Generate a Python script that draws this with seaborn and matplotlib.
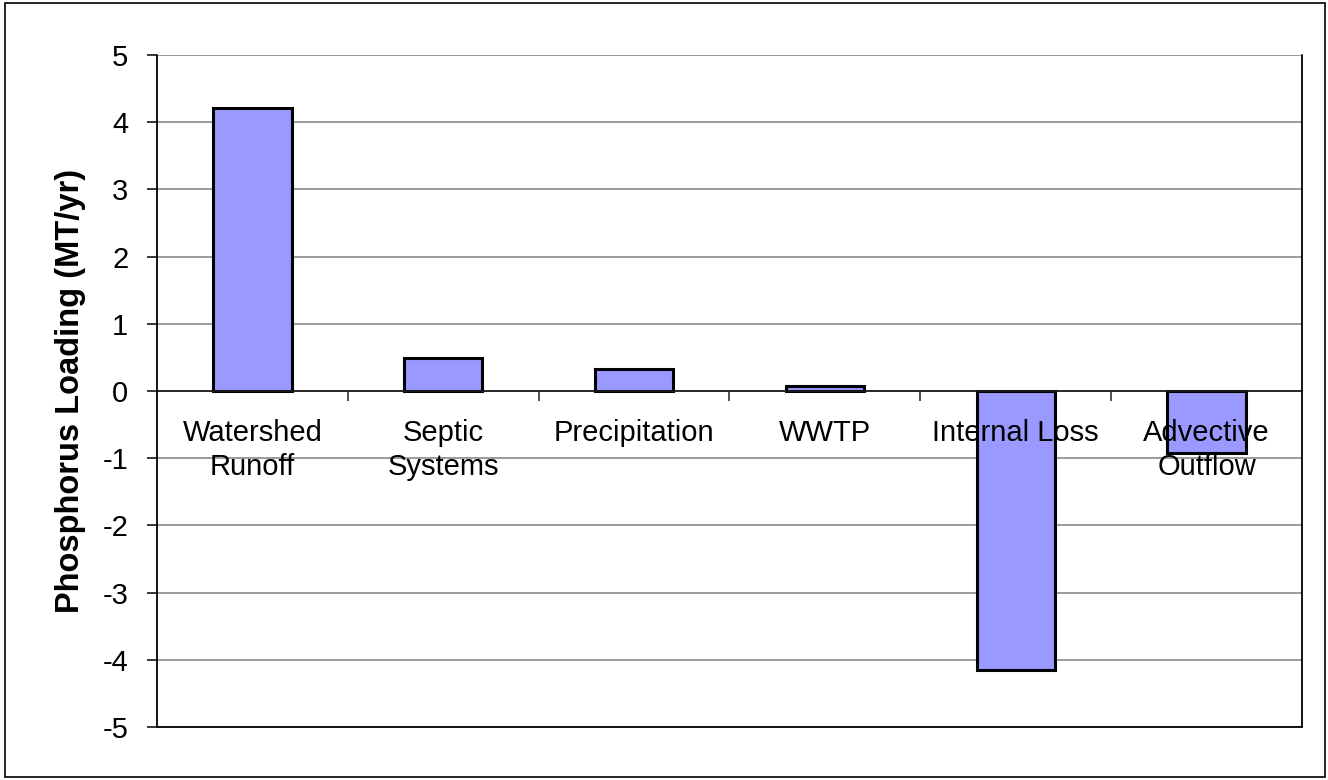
import matplotlib
matplotlib.use("Agg")
import matplotlib.pyplot as plt
from matplotlib.lines import Line2D
from matplotlib.patches import Rectangle
from matplotlib.ticker import FixedLocator
import seaborn as sns
import pandas as pd

categories = ["Watershed\nRunoff", "Septic\nSystems", "Precipitation", "WWTP",
              "Internal Loss", "Advective\nOutflow"]
loading = [4.21, 0.49, 0.33, 0.08, -4.15, -0.92]
y_ticks = [5, 4, 3, 2, 1, 0, -1, -2, -3, -4, -5]

df = pd.DataFrame({"source": categories, "loading": loading})

sns.set_theme(style="white")
plt.rcParams["font.family"] = ["Liberation Sans", "DejaVu Sans"]
plt.rcParams["text.color"] = "black"
plt.rcParams["xtick.color"] = "black"
plt.rcParams["ytick.color"] = "black"
plt.rcParams["axes.labelcolor"] = "black"

fig = plt.figure(figsize=(13.28, 7.8), dpi=100)
ax = fig.add_axes([157 / 1328, 1 - 727 / 780, (1302 - 157) / 1328, (727 - 55) / 780])
ax.set_axisbelow(False)

# horizontal gridlines behind the bars
for t in y_ticks:
    ax.axhline(t, color="#808080" if t != 0 else "#202020", lw=1.1, zorder=0)

sns.barplot(data=df, x="source", y="loading", color="#9999FF", saturation=1,
            width=0.41, edgecolor="black", linewidth=2.2, ax=ax, zorder=2)

ax.set_ylim(-5, 5)
ax.set_xlim(-0.5, len(categories) - 0.5)
ax.set_yticks(y_ticks)
ax.set_yticklabels([str(t) for t in y_ticks], fontsize=21)

# category axis sits on the zero line
ax.spines["bottom"].set_position(("data", 0))
ax.spines["bottom"].set_color("#202020")
ax.spines["bottom"].set_linewidth(1.1)
for s in ["top", "right", "left"]:
    ax.spines[s].set_visible(False)

ax.xaxis.set_minor_locator(FixedLocator([i + 0.5 for i in range(len(categories) - 1)]))
ax.tick_params(axis="x", which="major", length=0, pad=20, labelsize=21)
ax.tick_params(axis="x", which="minor", length=7, width=1.1, color="#202020",
               direction="out", bottom=True)
for lbl in ax.get_xticklabels():
    lbl.set_multialignment("center")
    lbl.set_linespacing(1.3)

ax.tick_params(axis="y", which="major", length=7.2, width=1.1, color="black",
               direction="out", left=True, pad=13.5)

ax.set_xlabel("")
ax.set_ylabel("Phosphorus Loading (MT/yr)", fontsize=23.5, fontweight="bold", labelpad=12)

# plot-area frame: left, bottom and right edges
for xs, ys in [([0, 0], [0, 1]), ([0, 1], [0, 0]), ([1, 1], [0, 1])]:
    ax.add_line(Line2D(xs, ys, transform=ax.transAxes, color="black", lw=1.3,
                       zorder=6, clip_on=False))

# outer figure frame
fig.add_artist(Rectangle((5 / 1328, 3 / 780), 1 - 8 / 1328, 1 - 6 / 780,
                         transform=fig.transFigure, fill=False,
                         edgecolor="black", lw=1.2))

fig.savefig("out.png", dpi=100, facecolor="white")
